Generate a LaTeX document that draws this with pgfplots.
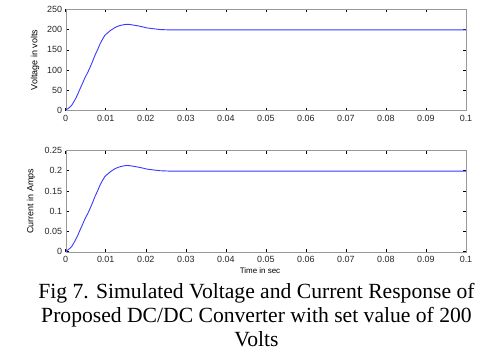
\documentclass[border=0pt]{standalone}
\usepackage{fontspec}
\setmainfont{Liberation Sans}
\newfontfamily\timesf{Liberation Serif}
\usepackage{pgfplots}
\pgfplotsset{compat=1.18}
\definecolor{curve}{rgb}{0.22,0.22,1}
\pgfplotstableread{
t v
0 2
0.0005 4
0.001 8
0.0015 13
0.002 21
0.0025 30
0.003 40
0.0036 54
0.0042 67
0.0048 81
0.0055 94
0.0061 107
0.0067 121
0.0073 136
0.008 151
0.0086 165
0.0092 176
0.0098 186
0.0105 192
0.0111 197
0.0117 201
0.0123 205
0.013 208
0.0136 210
0.0145 212
0.0153 213
0.016 212.5
0.0169 211
0.0178 209.5
0.0186 208
0.0195 206
0.0203 204
0.0211 203
0.0219 202
0.0228 201
0.0236 200
0.025 199.5
0.026 199
0.03 199
0.1 199
}\voltdata
\pgfplotstableread{
t i
0 0.002
0.0005 0.004
0.001 0.008
0.0015 0.013
0.002 0.021
0.0025 0.030
0.003 0.040
0.0036 0.054
0.0042 0.067
0.0048 0.081
0.0055 0.094
0.0061 0.107
0.0067 0.121
0.0073 0.136
0.008 0.151
0.0086 0.165
0.0092 0.176
0.0098 0.186
0.0105 0.192
0.0111 0.197
0.0117 0.201
0.0123 0.205
0.013 0.208
0.0136 0.210
0.0145 0.212
0.0153 0.213
0.016 0.2125
0.0169 0.211
0.0178 0.2095
0.0186 0.208
0.0195 0.206
0.0203 0.204
0.0211 0.203
0.0219 0.202
0.0228 0.201
0.0236 0.200
0.025 0.1995
0.026 0.199
0.03 0.199
0.1 0.199
}\currdata
\pgfplotsset{
  mystyle/.style={
    scale only axis, width=400.3bp, height=101.2bp,
    anchor=south west,
    xmin=0, xmax=0.1,
    xtick={0,0.01,0.02,0.03,0.04,0.05,0.06,0.07,0.08,0.09,0.1},
    xticklabels={0,0.01,0.02,0.03,0.04,0.05,0.06,0.07,0.08,0.09,0.1},
    tick align=inside, major tick length=3bp,
    axis line style={gray!80},
    tick style={black, line width=0.5pt},
    tick label style={font=\fontsize{9}{10}\selectfont, text=black!85},
    xticklabel style={yshift=-1bp},
    label style={font=\fontsize{9}{10}\selectfont},
    /pgf/number format/assume math mode=true,
    scaled ticks=false,
  }
}
\begin{document}
\begin{tikzpicture}
\path[use as bounding box] (0,0) rectangle (502bp,-354bp);
\begin{axis}[mystyle, at={(65.7bp,-110.5bp)},
  ymin=0, ymax=250, ytick={0,50,100,150,200,250},
  yticklabels={0,50,100,150,200,250},
  ylabel={Voltage in volts},
  ylabel style={at={(axis description cs:0,0.5)}, anchor=center, yshift=30.7bp}]
\addplot[curve, line width=0.9pt] table[x=t,y=v] {\voltdata};
\end{axis}
\begin{axis}[mystyle, at={(65.7bp,-251.7bp)},
  ymin=0, ymax=0.25, ytick={0,0.05,0.1,0.15,0.2,0.25},
  yticklabels={0,0.05,0.1,0.15,0.2,0.25},
  ylabel={Current in Amps},
  ylabel style={at={(axis description cs:0,0.5)}, anchor=center, yshift=34.7bp},
  xlabel={Time in sec},
  xlabel style={at={(axis description cs:0,0)}, anchor=center, xshift=194.3bp, yshift=-19.3bp, font=\fontsize{8}{9}\selectfont}]
\addplot[curve, line width=0.9pt] table[x=t,y=i] {\currdata};
\end{axis}
\node[anchor=base, font=\timesf\fontsize{21.7}{24}\selectfont, inner sep=0pt] at (256.5bp,-298.5bp) {Fig 7. Simulated Voltage and Current Response of};
\node[anchor=base, font=\timesf\fontsize{21.7}{24}\selectfont, inner sep=0pt] at (256.5bp,-322.5bp) {Proposed DC/DC Converter with set value of 200};
\node[anchor=base, font=\timesf\fontsize{21.7}{24}\selectfont, inner sep=0pt] at (256.5bp,-346.5bp) {Volts};
\end{tikzpicture}
\end{document}
